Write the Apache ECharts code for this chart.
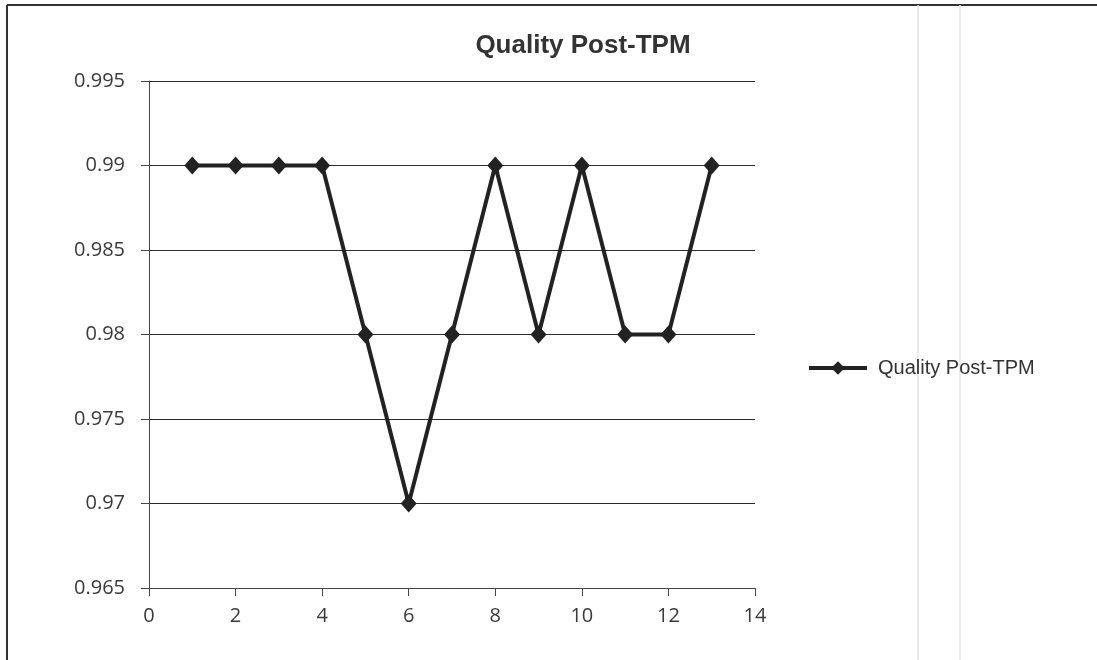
<!DOCTYPE html>
<html>
<head>
<meta charset="utf-8">
<script src="https://cdn.jsdelivr.net/npm/echarts@6/dist/echarts.min.js"></script>
<style>
  html, body { margin: 0; padding: 0; background: #fff; }
  #chart { width: 1097px; height: 660px; }
</style>
</head>
<body>
<div id="chart"></div>
<script>
// Weekly quality ratio after TPM rollout
const periods = [1, 2, 3, 4, 5, 6, 7, 8, 9, 10, 11, 12, 13];
const quality = [0.99, 0.99, 0.99, 0.99, 0.98, 0.97, 0.98, 0.99, 0.98, 0.99, 0.98, 0.98, 0.99];
const seriesName = 'Quality Post-TPM';
const chartTitle = 'Quality Post-TPM';

const chart = echarts.init(document.getElementById('chart'), null, { renderer: 'canvas' });

const axisFont = { fontFamily: 'Open Sans, DejaVu Sans, sans-serif', fontSize: 20, color: '#3a3a3a' };

chart.setOption({
  backgroundColor: '#fff',
  animation: false,
  title: {
    text: chartTitle,
    left: 578,
    top: 28,
    textAlign: 'center',
    textStyle: { fontFamily: 'Liberation Sans, Arial, sans-serif', fontWeight: 'bold', fontSize: 26, color: '#333' }
  },
  legend: {
    data: [seriesName],
    left: 802,
    top: 353,
    itemWidth: 58,
    itemHeight: 17,
    lineStyle: { width: 4 },
    textStyle: { fontFamily: 'Liberation Sans, Arial, sans-serif', fontSize: 20, color: '#333', padding: [0, 0, 0, 6] }
  },
  grid: { left: 149, right: 342, top: 81, bottom: 72, containLabel: false },
  xAxis: {
    type: 'value',
    min: 0,
    max: 14,
    interval: 2,
    axisLine: { show: true, lineStyle: { color: '#444', width: 1 } },
    axisTick: { show: true, length: 8, lineStyle: { color: '#444' } },
    axisLabel: Object.assign({ margin: 18 }, axisFont),
    splitLine: { show: false }
  },
  yAxis: {
    type: 'value',
    min: 0.965,
    max: 0.995,
    interval: 0.005,
    axisLine: { show: true, lineStyle: { color: '#444', width: 1 } },
    axisTick: { show: true, length: 8, lineStyle: { color: '#444' } },
    axisLabel: Object.assign({ margin: 24, formatter: v => String(+v.toFixed(3)) }, axisFont),
    splitLine: { show: true, lineStyle: { color: '#2a2a2a', width: 1.2 } }
  },
  series: [{
    name: seriesName,
    type: 'line',
    data: periods.map((p, i) => [p, quality[i]]),
    symbol: 'diamond',
    symbolSize: [16, 18],
    lineStyle: { color: '#222', width: 4 },
    itemStyle: { color: '#222' },
    z: 5
  }],
  graphic: [
    // outer chart frame (left and top edges)
    { type: 'line', shape: { x1: 7, y1: 5, x2: 7, y2: 660 }, style: { stroke: '#333', lineWidth: 2 } },
    { type: 'line', shape: { x1: 7, y1: 5, x2: 1097, y2: 5 }, style: { stroke: '#333', lineWidth: 2 } },
    // faint page creases on the right
    { type: 'line', shape: { x1: 918, y1: 5, x2: 918, y2: 660 }, style: { stroke: '#e4e4e0', lineWidth: 1.5 } },
    { type: 'line', shape: { x1: 960, y1: 5, x2: 960, y2: 660 }, style: { stroke: '#e4e4e0', lineWidth: 1.5 } }
  ]
});
</script>
</body>
</html>
